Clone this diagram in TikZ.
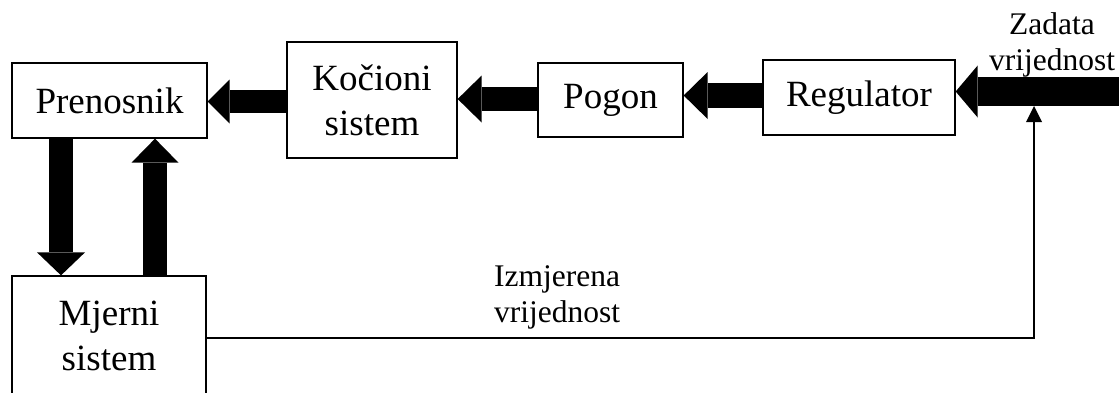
\documentclass[tikz,border=0pt]{standalone}
\usepackage{fontspec}
\setmainfont{Liberation Serif}
\usetikzlibrary{arrows.meta}
\begin{document}
\begin{tikzpicture}[x=1pt,y=-1pt,
  block/.style={draw=black, line width=1.3pt, align=center, inner sep=0pt,
    font=\fontsize{37}{45}\selectfont},
  lbl/.style={align=center, inner sep=0pt, font=\fontsize{31.5}{36}\selectfont},
  fat/.style n args={3}{line width=#1, draw=black,
    -{Triangle[width=#2, length=#3, line width=0pt]}},
  thinarrow/.style={line width=1.6pt, draw=black,
    -{Triangle[width=16pt, length=16pt, line width=0pt]}}
]
\useasboundingbox (0,0) rectangle (1119,392);

% blocks
\node[block, minimum width=195pt, minimum height=75pt]  (pren) at (109.5,100.5) {Prenosnik};
\node[block, minimum width=170pt, minimum height=116pt] (koc)  at (372,100)    {Kočioni\\sistem};
\node[block, minimum width=145pt, minimum height=74pt]  (pog)  at (610.5,100)  {Pogon};
\node[block, minimum width=192pt, minimum height=75pt]  (reg)  at (859,97.5)   {Regulator};
\node[block, minimum width=194pt, minimum height=120pt] (mjer) at (109,336)    {Mjerni\\sistem};

% signal labels
\node[lbl] (zad) at (1052,44.5)  {Zadata\\vrijednost};
\node[lbl] (izm) at (557,297.5)  {Izmjerena\\vrijednost};

% free ends
\coordinate (in) at (1119,91.5);
\coordinate (fb) at (1034,106);

% forward path
\draw[fat={29pt}{52pt}{22pt}] (in) -- (reg.east |- in);
\draw[fat={25pt}{47pt}{24pt}] (reg.west |- 0,95.5) -- (pog.east |- 0,95.5);
\draw[fat={24pt}{47pt}{24pt}] (pog.west |- 0,99) -- (koc.east |- 0,99);
\draw[fat={23pt}{44pt}{22pt}] (koc.west |- 0,101.5) -- (pren.east |- 0,101.5);

% transmission <-> measuring system
\draw[fat={24pt}{48pt}{23pt}] (pren.south -| 61,0) -- (mjer.north -| 61,0);
\draw[fat={24pt}{47pt}{24pt}] (mjer.north -| 155,0) -- (pren.south -| 155,0);

% feedback of the measured value
\draw[thinarrow] (mjer.east |- 0,338) -| (fb);
\end{tikzpicture}
\end{document}
